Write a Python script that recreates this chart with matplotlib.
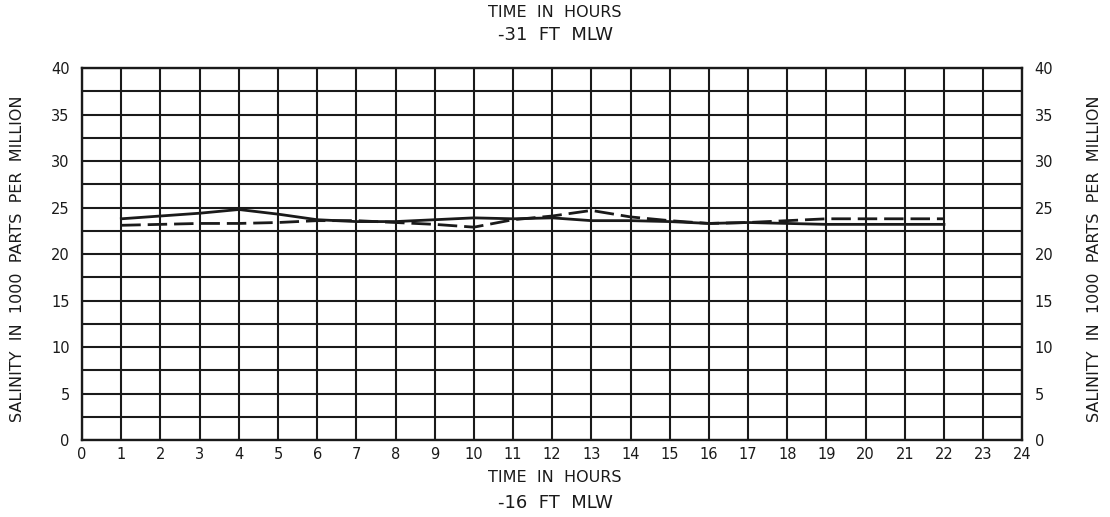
import numpy as np
import matplotlib
matplotlib.use("Agg")
import matplotlib.pyplot as plt

# hourly salinity readings (1000 ppm)
hours = list(range(1, 23))
solid_series = [23.8, 24.1, 24.4, 24.8, 24.3, 23.7, 23.5, 23.5, 23.7, 23.9, 23.8,
                23.9, 23.6, 23.6, 23.5, 23.3, 23.4, 23.3, 23.2, 23.2, 23.2, 23.2]
dashed_series = [23.1, 23.2, 23.3, 23.3, 23.4, 23.6, 23.6, 23.4, 23.2, 22.9, 23.7,
                 24.1, 24.7, 24.0, 23.6, 23.3, 23.4, 23.6, 23.8, 23.8, 23.8, 23.8]

x_ticks = list(range(0, 25))
y_ticks = [0, 5, 10, 15, 20, 25, 30, 35, 40]

plt.rcParams['font.family'] = ['DejaVu Sans']
ink = "#1a1a1a"

fig = plt.figure(figsize=(11.1, 5.17), dpi=100)
ax = fig.add_axes([0.074, 0.149, 0.847, 0.719])

ax.plot(hours, solid_series, color=ink, lw=2.0, zorder=3)
ax.plot(hours, dashed_series, color=ink, lw=2.0, dashes=(7, 2.5), zorder=3)

ax.set_xlim(0, 24)
ax.set_ylim(0, 40)

# grid: every hour, every 2.5 units
for h in x_ticks:
    ax.axvline(h, color=ink, lw=1.5, zorder=1)
for v in np.arange(0, 40.1, 2.5):
    ax.axhline(v, color=ink, lw=1.5, zorder=1)

for s in ax.spines.values():
    s.set_color(ink)
    s.set_linewidth(1.7)

ax.set_xticks(x_ticks)
ax.set_xticklabels([str(t) for t in x_ticks])
ax.set_yticks(y_ticks)
ax.set_yticklabels([str(t) for t in y_ticks])
ax.tick_params(axis="both", length=0, labelsize=10.5, colors=ink, pad=5)
ax.tick_params(axis="y", labelright=True, pad=9)

fig.text(0.5, 0.975, "TIME  IN  HOURS", ha="center", va="center", fontsize=11.5, color=ink)
fig.text(0.5, 0.932, "-31  FT  MLW", ha="center", va="center", fontsize=13, color=ink, weight="medium")
fig.text(0.5, 0.076, "TIME  IN  HOURS", ha="center", va="center", fontsize=11.5, color=ink)
fig.text(0.5, 0.028, "-16  FT  MLW", ha="center", va="center", fontsize=13, color=ink, weight="medium")

ylab = "SALINITY  IN  1000  PARTS  PER  MILLION"
fig.text(0.016, 0.5, ylab, rotation=90, ha="center", va="center", fontsize=11.5, color=ink, weight="medium")
fig.text(0.986, 0.5, ylab, rotation=90, ha="center", va="center", fontsize=11.5, color=ink, weight="medium")

fig.savefig("out.png", dpi=100, facecolor="white")
